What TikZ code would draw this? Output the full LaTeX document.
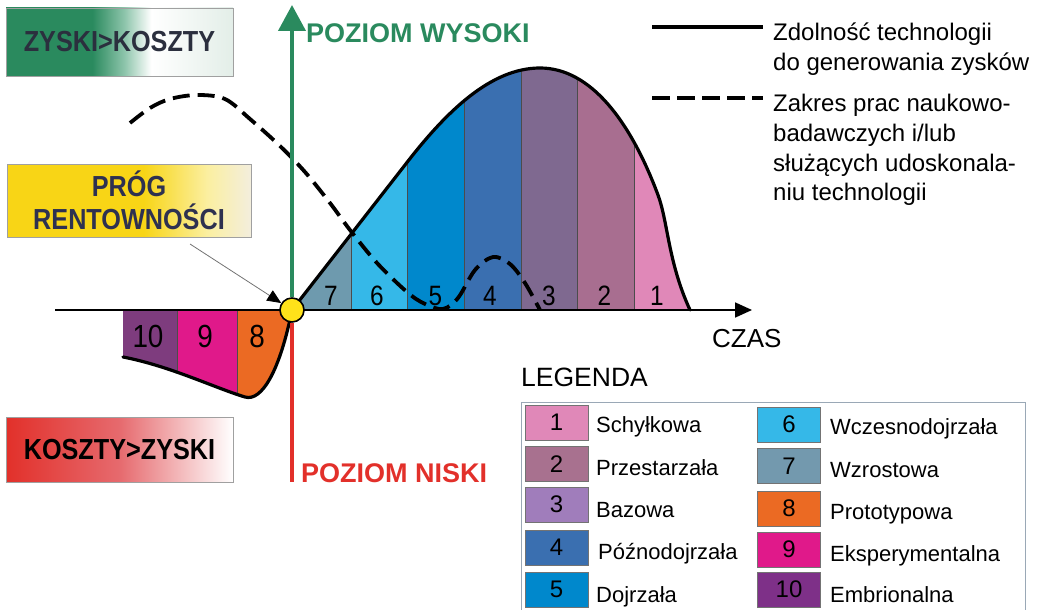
\documentclass[tikz,border=0pt]{standalone}
\usepackage{fontspec}
\setmainfont{Liberation Sans}
\newfontfamily\condfont[FakeStretch=0.87]{Liberation Sans}
\usetikzlibrary{arrows.meta}
\definecolor{cgreen}{HTML}{2A8A5E}
\definecolor{cred}{HTML}{E2302A}
\definecolor{cyel}{HTML}{FFE21A}
\definecolor{b1}{HTML}{E088B8}
\definecolor{b2}{HTML}{A86E90}
\definecolor{b3}{HTML}{7F6990}
\definecolor{b4}{HTML}{3A6FB0}
\definecolor{b5}{HTML}{0088CC}
\definecolor{b6}{HTML}{35B8E8}
\definecolor{b7}{HTML}{6E9AAE}
\definecolor{b8}{HTML}{EB6A23}
\definecolor{b9}{HTML}{E0198A}
\definecolor{b10}{HTML}{7E3C7E}
\definecolor{l2}{HTML}{A8718F}
\definecolor{l3}{HTML}{A07DBB}
\definecolor{l7}{HTML}{7399AE}
\definecolor{l10}{HTML}{7E3088}
\definecolor{boxtext}{HTML}{2B2F3E}
\definecolor{progtext}{HTML}{2E3150}
\definecolor{yel}{HTML}{F8D516}
\definecolor{yelpale}{HTML}{FBEFA0}
\definecolor{cream}{HTML}{F3EEDD}
\definecolor{lgreen}{HTML}{E3EEE8}
\definecolor{gmid}{HTML}{8CC4AA}
\definecolor{redmid}{HTML}{E66A6E}
\definecolor{framegray}{HTML}{9AA8B6}
\definecolor{boxgray}{HTML}{A0A0A0}
\pgfdeclarehorizontalshading{greenfade}{100bp}{color(0bp)=(cgreen); color(44bp)=(cgreen); color(51bp)=(gmid); color(57bp)=(white); color(75bp)=(lgreen); color(100bp)=(lgreen)}
\pgfdeclarehorizontalshading{yellowfade}{100bp}{color(0bp)=(yel); color(53bp)=(yel); color(66bp)=(yelpale); color(75bp)=(cream); color(100bp)=(cream)}
\pgfdeclarehorizontalshading{redfade}{100bp}{color(0bp)=(cred); color(25bp)=(cred); color(50bp)=(redmid); color(75bp)=(white); color(100bp)=(white)}
\tikzset{
  divider/.style={draw=black!70, line width=0.7pt},
  bandnum/.style={font=\condfont\fontsize{28}{28}\selectfont, inner sep=0pt, anchor=base},
  lownum/.style={font=\condfont\fontsize{32}{32}\selectfont, inner sep=0pt, anchor=base},
  curve/.style={line width=3.2pt, line cap=round, line join=round},
  dashcurve/.style={line width=3.8pt, dash pattern=on 17pt off 8pt},
  boxbase/.style={draw=boxgray, line width=0.9pt, shade, inner sep=0pt},
  boxfont/.style={font=\condfont\bfseries\fontsize{29}{33}\selectfont, align=center},
  swatch/.style={draw=black!55, line width=0.6pt, minimum width=63pt, minimum height=35pt, inner sep=0pt, font=\fontsize{24}{24}\selectfont},
  lbl/.style={anchor=base west, inner sep=0pt, font=\fontsize{22}{22}\selectfont},
  keytext/.style={anchor=base west, inner sep=0pt, font=\fontsize{24}{24}\selectfont},
}
\begin{document}
\begin{tikzpicture}[x=1pt,y=-1pt]
\useasboundingbox (0,0) rectangle (1037,610);
% upper region bands
\begin{scope}
\clip (292,310) -- (405,165) .. controls (445,113) and (490,68) .. (540,68) .. controls (590,68) and (630,120) .. (658,195) .. controls (668,222) and (668,262) .. (690,310) -- cycle;
\fill[b7] (280,0) rectangle (351,320);
\fill[b6] (351,0) rectangle (407,320);
\fill[b5] (407,0) rectangle (464,320);
\fill[b4] (464,0) rectangle (521,320);
\fill[b3] (521,0) rectangle (577,320);
\fill[b2] (577,0) rectangle (634,320);
\fill[b1] (634,0) rectangle (700,320);
\foreach \x in {351,407,464,521,577,634} \draw[divider] (\x,0) -- (\x,320);
\end{scope}
% lower region bands
\begin{scope}
\clip (123,310) -- (123,357) .. controls (170,366) and (215,388) .. (245,397) .. controls (262,402) and (280,370) .. (292,310) -- cycle;
\fill[b10] (110,300) rectangle (177,410);
\fill[b9] (177,300) rectangle (237,410);
\fill[b8] (237,300) rectangle (300,410);
\foreach \x in {177,237} \draw[divider] (\x,300) -- (\x,410);
\end{scope}
% band numbers
\node[bandnum] (n7) at (331,305) {7};
\node[bandnum] (n6) at (377,305) {6};
\node[bandnum] (n5) at (435.5,305) {5};
\node[bandnum] (n4) at (490,305) {4};
\node[bandnum] (n3) at (549,305) {3};
\node[bandnum] (n2) at (604.5,305) {2};
\node[bandnum] (n1) at (657,305) {1};
\node[lownum] (n10) at (148,347) {10};
\node[lownum] (n9) at (205,347) {9};
\node[lownum] (n8) at (257,347) {8};
% horizontal axis
\coordinate (xl) at (55,310);
\coordinate (xr) at (752,310);
\draw[line width=1.8pt, -{Triangle[length=17pt,width=15pt]}] (xl) -- (xr);
\node[anchor=base west, inner sep=0pt, font=\fontsize{26}{26}\selectfont] (czas) at (712,347) {CZAS};
% dashed curve
\draw[dashcurve] plot[smooth, tension=0.55] coordinates {(130,123) (150,108) (170,99) (197,95) (225,99) (250,119) (280,146) (305,172) (330,203) (350,230) (377,263) (407,292) (425,304) (443,309) (458,298) (475,270) (493,257) (510,264) (525,283) (540,310)};
% solid curves
\draw[curve] (292,310) -- (405,165) .. controls (445,113) and (490,68) .. (540,68) .. controls (590,68) and (630,120) .. (658,195) .. controls (668,222) and (668,262) .. (690,310);
\draw[curve] (123,357) .. controls (170,366) and (215,388) .. (245,397) .. controls (262,402) and (280,370) .. (292,310);
% break-even point and vertical axis
\node[circle, draw, fill=cyel, line width=1.6pt, minimum size=24pt, inner sep=0pt] (bep) at (292,310) {};
\coordinate (ytop) at (292,5);
\coordinate (ybot) at (292,482);
\draw[cgreen, line width=4pt, -{Triangle[length=26pt,width=27pt]}] (bep.north) -- (ytop);
\draw[cred, line width=3.5pt] (bep.south) -- (ybot);
\node[anchor=base west, inner sep=0pt, text=cgreen, font=\bfseries\fontsize{27}{27}\selectfont] (wys) at (306,43) {POZIOM WYSOKI};
\node[anchor=base west, inner sep=0pt, text=cred, font=\bfseries\fontsize{27}{27}\selectfont] (nis) at (301,482) {POZIOM NISKI};
% boxes
\node[boxbase, shading=greenfade, minimum width=227pt, minimum height=68pt, boxfont, text=boxtext] (zk) at (119.5,42) {ZYSKI>KOSZTY};
\node[boxbase, shading=yellowfade, minimum width=244pt, minimum height=73pt, boxfont, text=progtext] (prog) at (129,200.5) {PRÓG\\RENTOWNOŚCI};
\node[boxbase, shading=redfade, minimum width=227pt, minimum height=65pt, boxfont, text=black] (kz) at (119.5,449.5) {KOSZTY>ZYSKI};
% pointer
\coordinate (pstart) at (190,244);
\draw[black!55, line width=0.8pt, -{Triangle[length=14pt,width=12pt,color=black]}] (pstart) -- (bep);
% key top right
\coordinate (ks1) at (652,27);
\coordinate (ks2) at (763,27);
\coordinate (kd1) at (652,98);
\coordinate (kd2) at (763,98);
\draw[line width=4pt] (ks1) -- (ks2);
\draw[line width=4pt, dash pattern=on 18pt off 7pt] (kd1) -- (kd2);
\node[keytext] (k1) at (773,41) {Zdolność technologii};
\node[keytext] (k2) at (773,71) {do generowania zysków};
\node[keytext] (k3) at (773,111) {Zakres prac naukowo-};
\node[keytext] (k4) at (773,141) {badawczych i/lub};
\node[keytext] (k5) at (773,171) {służących udoskonala-};
\node[keytext] (k6) at (773,200) {niu technologii};
% legend
\node[anchor=base west, inner sep=0pt, font=\fontsize{26.5}{26.5}\selectfont] (leg) at (521,386) {LEGENDA};
\node[draw=framegray, line width=0.9pt, anchor=north west, minimum width=504pt, minimum height=240pt, inner sep=0pt] (legbox) at (521,402) {};
\node[swatch, fill=b1] (s1) at (556.5,422.5) {1};
\node[swatch, fill=l2] (s2) at (556.5,464) {2};
\node[swatch, fill=l3] (s3) at (556.5,504.5) {3};
\node[swatch, fill=b4] (s4) at (556.5,547.5) {4};
\node[swatch, fill=b5] (s5) at (556.5,589.5) {5};
\node[swatch, fill=b6] (s6) at (789,424.5) {6};
\node[swatch, fill=l7] (s7) at (789,466) {7};
\node[swatch, fill=b8] (s8) at (789,508.5) {8};
\node[swatch, fill=b9] (s9) at (789,549.5) {9};
\node[swatch, fill=l10] (s10) at (789,589.5) {10};
\node[lbl] (t1) at (596,432) {Schyłkowa};
\node[lbl] (t2) at (596,475) {Przestarzała};
\node[lbl] (t3) at (596,517) {Bazowa};
\node[lbl] (t4) at (598,559) {Późnodojrzała};
\node[lbl] (t5) at (596,602) {Dojrzała};
\node[lbl] (t6) at (830,434) {Wczesnodojrzała};
\node[lbl] (t7) at (830,477) {Wzrostowa};
\node[lbl] (t8) at (830,519) {Prototypowa};
\node[lbl] (t9) at (830,561) {Eksperymentalna};
\node[lbl] (t10) at (830,602) {Embrionalna};
\end{tikzpicture}
\end{document}
